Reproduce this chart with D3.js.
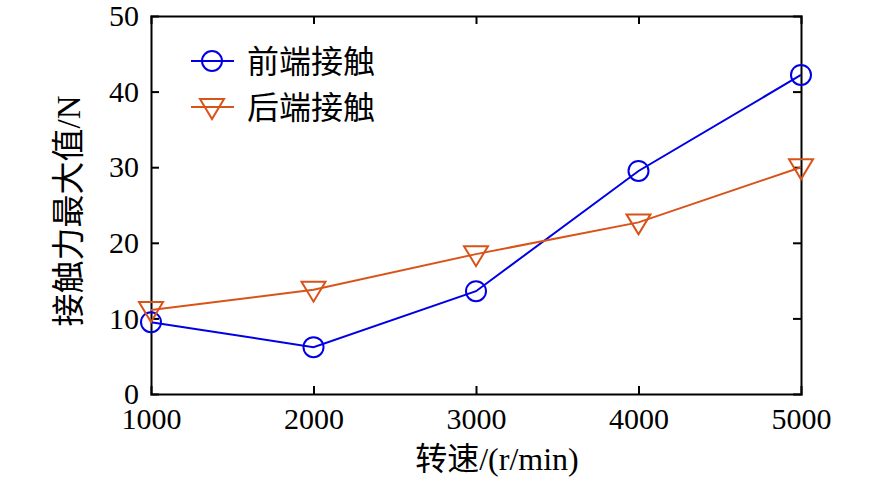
<!DOCTYPE html>
<html>
<head>
<meta charset="utf-8">
<script src="https://cdn.jsdelivr.net/npm/d3@7"></script>
<style>
  body { margin: 0; background: #fff; }
  svg { display: block; }
  .tick text { font-family: "Liberation Serif", "Times New Roman", serif; }
</style>
</head>
<body>
<div id="chart"></div>
<script>
// data
const speeds = [1000, 2000, 3000, 4000, 5000];
const frontVals = [9.5, 6.2, 13.6, 29.5, 42.2];
const rearVals = [11.1, 13.8, 18.5, 22.7, 30.0];
const seriesNames = ["前端接触", "后端接触"];
const yTicks = [0, 10, 20, 30, 40, 50];

const width = 886;
const height = 491;
const margin = {left: 151, right: 85, top: 16, bottom: 97};

const blue = "#0000e6";
const orange = "#d95319";
const cjk = '"Liberation Serif", "Noto Sans CJK SC", serif';

const svg = d3.select("#chart")
  .append("svg")
  .attr("width", width)
  .attr("height", height);

const x = d3.scaleLinear()
  .domain([1000, 5000])
  .range([margin.left, width - margin.right]);

const y = d3.scaleLinear()
  .domain([0, 50])
  .range([height - margin.bottom, margin.top]);

// axes, ticks pointing inward, mirrored on top/right
svg.append("g")
  .attr("transform", `translate(0,${height - margin.bottom})`)
  .call(d3.axisBottom(x).tickValues(speeds).tickFormat(d3.format("d")).tickSize(-8).tickPadding(14))
  .attr("font-size", "30px");

svg.append("g")
  .attr("transform", `translate(${margin.left},0)`)
  .call(d3.axisLeft(y).tickValues(yTicks).tickSize(-8).tickPadding(12))
  .attr("font-size", "30px");

svg.append("g")
  .attr("transform", `translate(0,${margin.top})`)
  .call(d3.axisTop(x).tickValues(speeds).tickSize(-8).tickFormat(""));

svg.append("g")
  .attr("transform", `translate(${width - margin.right},0)`)
  .call(d3.axisRight(y).tickValues(yTicks).tickSize(-8).tickFormat(""));

svg.selectAll(".domain").attr("stroke", "#000").attr("stroke-width", 2);
svg.selectAll(".tick line").attr("stroke", "#000").attr("stroke-width", 2);
svg.selectAll(".tick text").attr("fill", "#000");
// hide ticks at the box edges
svg.selectAll(".tick line").filter(function() {
  const t = d3.select(this.parentNode).datum();
  return t === 1000 || t === 5000 || t === 0 || t === 50;
}).remove();

// lines
const line = d3.line()
  .x((d, i) => x(speeds[i]))
  .y(d => y(d));

svg.append("path")
  .datum(frontVals)
  .attr("fill", "none")
  .attr("stroke", blue)
  .attr("stroke-width", 2)
  .attr("d", line);

svg.append("path")
  .datum(rearVals)
  .attr("fill", "none")
  .attr("stroke", orange)
  .attr("stroke-width", 2)
  .attr("d", line);

// markers
const tri = "M-12,-8L12,-8L0,12Z";

svg.selectAll(".circ")
  .data(frontVals)
  .enter()
  .append("circle")
    .attr("class", "circ")
    .attr("cx", (d, i) => x(speeds[i]))
    .attr("cy", d => y(d))
    .attr("r", 10)
    .attr("fill", "none")
    .attr("stroke", blue)
    .attr("stroke-width", 2);

svg.selectAll(".tri")
  .data(rearVals)
  .enter()
  .append("path")
    .attr("class", "tri")
    .attr("transform", (d, i) => `translate(${x(speeds[i])},${y(d)})`)
    .attr("d", tri)
    .attr("fill", "none")
    .attr("stroke", orange)
    .attr("stroke-width", 2);

// legend
const legend = svg.append("g");
const legY = [61, 107];
const colors = [blue, orange];

seriesNames.forEach((name, i) => {
  legend.append("line")
    .attr("x1", 191).attr("x2", 234)
    .attr("y1", legY[i]).attr("y2", legY[i])
    .attr("stroke", colors[i]).attr("stroke-width", 2);
  if (i === 0) {
    legend.append("circle")
      .attr("cx", 212).attr("cy", legY[i]).attr("r", 10)
      .attr("fill", "none").attr("stroke", colors[i]).attr("stroke-width", 2);
  } else {
    legend.append("path")
      .attr("transform", `translate(212,${legY[i]})`)
      .attr("d", tri)
      .attr("fill", "none").attr("stroke", colors[i]).attr("stroke-width", 2);
  }
  legend.append("text")
    .attr("x", 247).attr("y", legY[i] + 12)
    .attr("font-family", cjk)
    .attr("font-size", "32px")
    .text(name);
});

// axis titles
svg.append("text")
  .attr("x", 497)
  .attr("y", 470)
  .attr("text-anchor", "middle")
  .attr("font-family", cjk)
  .attr("font-size", "32px")
  .text("转速/(r/min)");

svg.append("text")
  .attr("transform", `translate(80,211) rotate(-90)`)
  .attr("text-anchor", "middle")
  .attr("font-family", cjk)
  .attr("font-size", "33px")
  .text("接触力最大值/N");
</script>
</body>
</html>
